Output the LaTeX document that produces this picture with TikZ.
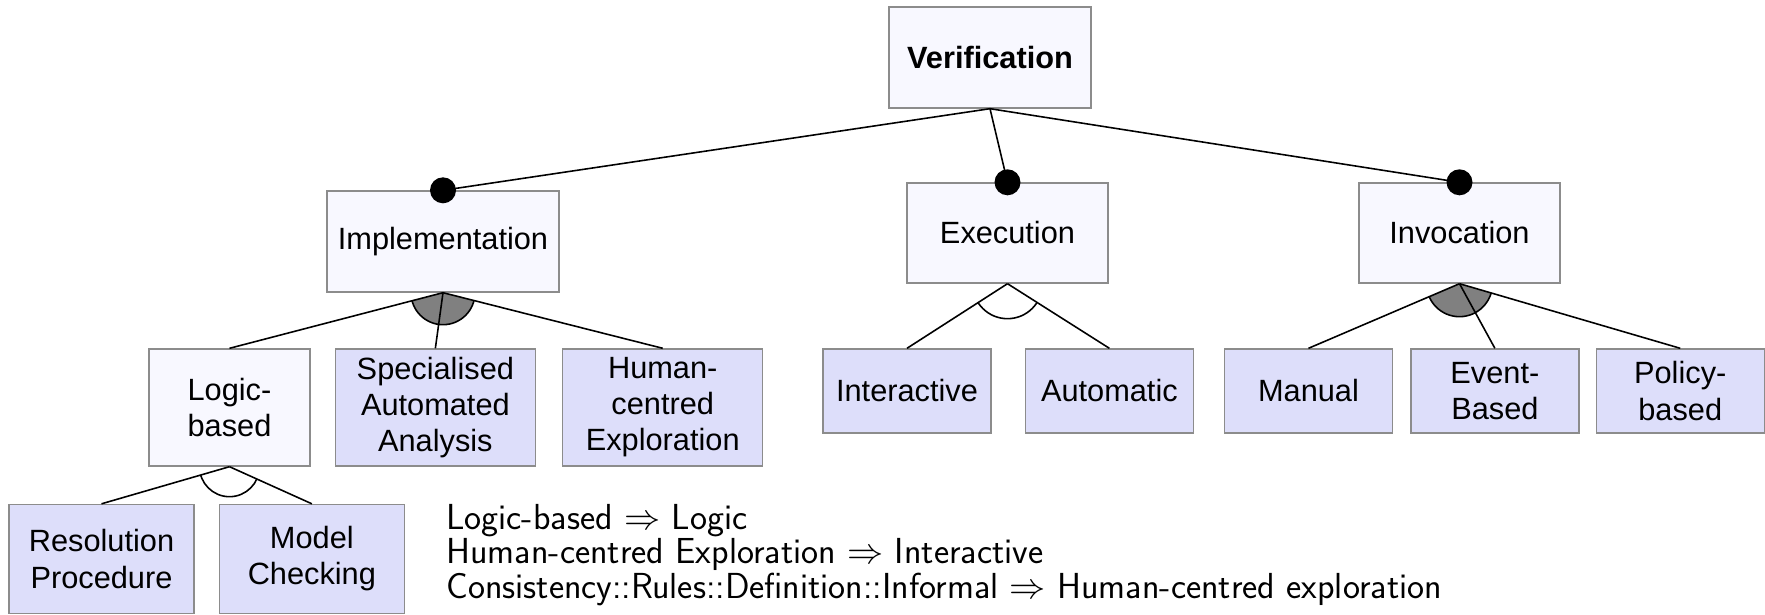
\documentclass[tikz,border=0pt]{standalone}
\usepackage{fix-cm}
\usepackage{fontspec}
\setmainfont{Liberation Sans}
\usetikzlibrary{positioning}
\definecolor{featfill}{RGB}{248,248,255}
\definecolor{leaffill}{RGB}{221,222,250}
\definecolor{featline}{RGB}{140,140,140}
\definecolor{groupfill}{RGB}{128,128,128}
\tikzset{
  feat/.style={draw=featline, line width=0.8pt, fill=featfill,
               align=center, inner sep=0pt, minimum width=3.36cm,
               minimum height=1.68cm, font=\fontsize{17.5}{20.5}\selectfont},
  leaf/.style={feat, fill=leaffill},
  link/.style={line width=0.9pt, draw=black},
  mand/.style={circle, fill=black, inner sep=0pt, minimum size=0.52cm},
  rulestext/.style={anchor=north west, align=left, inner sep=0pt,
                    font=\sffamily\fontsize{20.6}{19.6}\selectfont}
}

\begin{document}
\begin{tikzpicture}[x=0.02cm, y=-0.02cm]
  \useasboundingbox (0,0) rectangle (1765,615);

  % root and its three mandatory children
  \node[feat, font=\fontsize{17.5}{20.5}\selectfont\bfseries,
        minimum width=4.04cm, minimum height=2.02cm] (verif) at (990,57.5) {Verification};
  \node[feat, minimum width=4.64cm, minimum height=2.02cm] (impl) at (443,241.5) {Implementation};
  \node[feat, minimum width=4.02cm, minimum height=2cm] (exec) at (1007.5,233) {Execution};
  \node[feat, minimum width=4.02cm, minimum height=2cm] (invo) at (1459.5,233) {Invocation};

  % implementation
  \node[feat, minimum width=3.22cm, minimum height=2.34cm] (logic) at (229.5,407.5) {Logic-\\based};
  \node[leaf, minimum width=4cm, minimum height=2.34cm, right=0.48cm of logic] (spec) {Specialised\\Automated\\Analysis};
  \node[leaf, minimum width=4cm, minimum height=2.34cm, right=0.52cm of spec] (human) {Human-\\centred\\Exploration};

  % logic-based
  \node[leaf, minimum width=3.7cm, minimum height=2.18cm] (resol) at (101.5,559) {Resolution\\Procedure};
  \node[leaf, minimum width=3.7cm, minimum height=2.18cm, right=0.48cm of resol] (model) {Model\\Checking};

  % execution
  \node[leaf] (inter) at (907,391) {Interactive};
  \node[leaf, right=0.66cm of inter] (auto) {Automatic};

  % invocation
  \node[leaf] (manual) at (1308.5,391) {Manual};
  \node[leaf, right=0.34cm of manual] (event) {Event-\\Based};
  \node[leaf, right=0.32cm of event] (policy) {Policy-\\based};

  % or groups
  \begin{scope}
    \clip (impl.south) -- (logic.north) -- (human.north) -- cycle;
    \filldraw[link, fill=groupfill] (impl.south) circle[radius=0.64cm];
  \end{scope}
  \begin{scope}
    \clip (invo.south) -- (manual.north) -- (policy.north) -- cycle;
    \filldraw[link, fill=groupfill] (invo.south) circle[radius=0.66cm];
  \end{scope}

  % alternative groups
  \begin{scope}
    \clip (logic.south) -- (resol.north) -- (model.north) -- cycle;
    \draw[link] (logic.south) circle[radius=0.6cm];
  \end{scope}
  \begin{scope}
    \clip (exec.south) -- (inter.north) -- (auto.north) -- cycle;
    \draw[link] (exec.south) circle[radius=0.7cm];
  \end{scope}

  % mandatory markers
  \node[mand] (impldot) at (impl.north) {};
  \node[mand] (execdot) at (exec.north) {};
  \node[mand] (invodot) at (invo.north) {};

  \draw[link] (verif.south) -- (impldot.center);
  \draw[link] (verif.south) -- (execdot.center);
  \draw[link] (verif.south) -- (invodot.center);

  \draw[link] (impl.south) -- (logic.north);
  \draw[link] (impl.south) -- (spec.north);
  \draw[link] (impl.south) -- (human.north);
  \draw[link] (logic.south) -- (resol.north);
  \draw[link] (logic.south) -- (model.north);
  \draw[link] (exec.south) -- (inter.north);
  \draw[link] (exec.south) -- (auto.north);
  \draw[link] (invo.south) -- (manual.north);
  \draw[link] (invo.south) -- (event.north);
  \draw[link] (invo.south) -- (policy.north);

  % cross-tree constraints
  \node[rulestext] (rules) at (446,504) {Logic-based $\Rightarrow$ Logic\\
    Human-centred Exploration $\Rightarrow$ Interactive\\
    Consistency::Rules::Definition::Informal $\Rightarrow$ Human-centred exploration};
\end{tikzpicture}
\end{document}
